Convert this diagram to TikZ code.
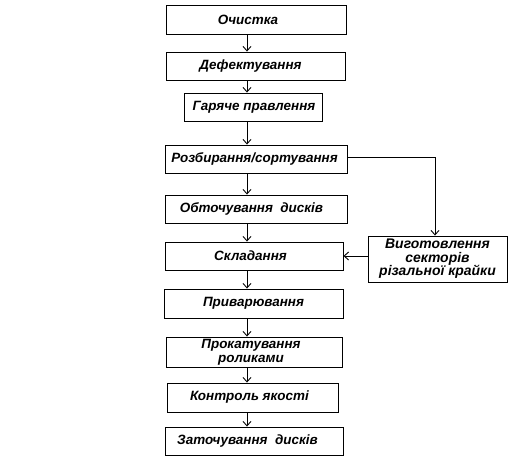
\documentclass[tikz,border=0pt]{standalone}
\usepackage{fontspec}
\setmainfont{Liberation Sans}
\usetikzlibrary{arrows.meta}
\newcommand{\tsh}[2]{\hspace*{#1bp}#2}
\begin{document}
\begin{tikzpicture}[x=1bp,y=-1bp,
  box/.style={draw=black, line width=0.9bp, fill=white, inner sep=0pt, align=center,
    font=\fontsize{13.5}{14}\selectfont\bfseries\itshape},
  arr/.style={draw=black, line width=0.9bp, -{Straight Barb[length=4.5bp,width=8bp]}}]
\useasboundingbox (0,0) rectangle (511,462);
\coordinate (ax) at (247,0);
\node[box, minimum width=180bp, minimum height=29bp] (b1) at (256,19.5) {\tsh{-16}{Очистка}};
\node[box, minimum width=179bp, minimum height=28bp] (b2) at (255.5,66) {\tsh{-10}{Дефектування}};
\node[box, minimum width=138bp, minimum height=28bp] (b3) at (253,107) {\tsh{2}{Гаряче правлення}};
\node[box, minimum width=182bp, minimum height=28bp] (b4) at (256,159) {\tsh{-3}{Розбирання/сортування}};
\node[box, minimum width=182bp, minimum height=28bp] (b5) at (256,209) {\tsh{-9}{Обточування\ \ дисків}};
\node[box, minimum width=178bp, minimum height=28bp] (b6) at (254,256) {\tsh{-7}{Складання}};
\node[box, minimum width=179bp, minimum height=29bp] (b7) at (253.5,303.5) {Приварювання};
\node[box, minimum width=176bp, minimum height=30bp, font=\fontsize{13.5}{14}\selectfont\bfseries\itshape] (b8) at (254,352) {\tsh{-6}{Прокатування}\\\tsh{-6}{роликами}};
\node[box, minimum width=171bp, minimum height=29bp] (b9) at (252.5,397.5) {\tsh{-6}{Контроль якості}};
\node[box, minimum width=178bp, minimum height=28bp] (b10) at (254,441) {\tsh{-13}{Заточування\ \ дисків}};
\node[box, minimum width=139bp, minimum height=46bp, font=\fontsize{14}{13.5}\selectfont\bfseries\itshape] (r) at (437.5,259) {Виготовлення\\секторів\\різальної крайки};
\foreach \a/\b in {b1/b2,b2/b3,b3/b4,b4/b5,b5/b6,b6/b7,b7/b8,b8/b9,b9/b10}
  \draw[arr] (\a.south -| ax) -- (\b.north -| ax);
\coordinate (cx) at (435,0);
\draw[arr] (b4.east |- 0,157) -| (r.north -| cx);
\draw[arr] (r.west |- 0,256) -- (b6.east |- 0,256);
\end{tikzpicture}
\end{document}
